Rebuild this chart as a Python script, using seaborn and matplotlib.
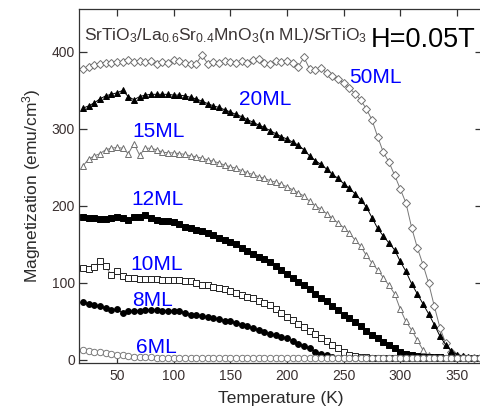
import matplotlib
matplotlib.use("Agg")
import matplotlib.pyplot as plt
import seaborn as sns
import pandas as pd

# Temperature grid (K)
temps = [20, 25, 30, 35, 40, 45, 50, 55, 60, 65, 70, 75, 80, 85, 90, 95,
         100, 105, 110, 115, 120, 125, 130, 135, 140, 145, 150, 155, 160, 165,
         170, 175, 180, 185, 190, 195, 200, 205, 210, 215, 220, 225, 230, 235,
         240, 245, 250, 255, 260, 265, 270, 275, 280, 285, 290, 295, 300, 305,
         310, 315, 320, 325, 330, 335, 340, 345, 350, 355, 360, 365, 370]

# Magnetization (emu/cm^3) for each thickness
m_50 = [378, 381, 383, 385, 386, 386, 387, 387, 389, 387, 388, 387, 388, 385,
        387, 386, 389, 388, 386, 384, 385, 396, 385, 387, 386, 388, 387, 386,
        388, 386, 389, 391, 386, 384, 388, 387, 388, 386, 381, 393, 378, 377,
        379, 373, 369, 365, 360, 353, 346, 338, 326, 312, 290, 270, 257, 240,
        222, 204, 172, 146, 124, 100, 70, 42, 22, 10, 5, 4, 3, 2, 2]
m_20 = [327, 330, 334, 339, 343, 345, 347, 350, 342, 338, 342, 344, 345, 345,
        345, 345, 344, 344, 343, 341, 339, 336, 333, 330, 328, 325, 322, 319,
        316, 312, 309, 305, 302, 298, 294, 290, 287, 283, 279, 273, 265, 259,
        254, 248, 241, 236, 229, 223, 216, 208, 199, 185, 171, 161, 152, 143,
        128, 115, 99, 86, 73, 60, 46, 31, 20, 12, 7, 5, 4, 3, 3]
m_15 = [252, 261, 265, 268, 273, 275, 276, 275, 268, 281, 266, 275, 275, 273,
        270, 269, 269, 268, 267, 265, 264, 262, 260, 258, 256, 253, 251, 249,
        246, 243, 241, 238, 236, 233, 231, 228, 225, 221, 217, 213, 206, 200,
        196, 190, 184, 178, 172, 165, 156, 148, 136, 126, 117, 107, 97, 86,
        66, 50, 39, 26, 13, 6, 4, 3, 3, 3, 3, 3, 3, 3, 3]
m_12 = [186, 185, 184, 183, 183, 184, 186, 184, 182, 186, 186, 188, 185, 182,
        181, 180, 179, 177, 173, 171, 169, 167, 165, 162, 159, 156, 153, 150,
        146, 142, 138, 134, 131, 127, 122, 117, 112, 107, 101, 97, 92, 86, 81,
        76, 70, 65, 59, 54, 49, 44, 38, 33, 28, 24, 20, 15, 11, 8, 6, 5, 4, 4,
        4, 4, 3, 3, 3, 3, 3, 3, 3]
m_10 = [119, 118, 121, 128, 122, 110, 115, 109, 106, 106, 105, 105, 105, 105,
        104, 104, 104, 104, 103, 102, 100, 98, 97, 95, 94, 92, 90, 87, 85, 82,
        80, 77, 74, 71, 66, 61, 56, 52, 47, 43, 38, 34, 29, 25, 20, 16, 11, 7,
        5, 4, 4, 3, 3, 3, 3, 3, 3, 3, 3, 3, 3, 3, 3, 3, 3, 3, 3, 3, 3, 3, 3]
m_8 = [75, 73, 71, 70, 67, 65, 66, 61, 63, 64, 64, 65, 65, 65, 64, 64, 64, 63,
       61, 59, 58, 57, 56, 54, 53, 51, 50, 48, 46, 44, 41, 39, 36, 34, 32, 30,
       28, 25, 21, 18, 15, 11, 8, 6, 4, 3, 3, 3, 3, 3, 3, 3, 3, 3, 3, 3, 3, 3,
       3, 3, 3, 3, 3, 3, 3, 3, 3, 3, 3, 3, 3]
m_6 = [13, 12, 11, 10, 9, 8, 7, 6, 5, 4.5, 4, 4, 3.5, 3, 3, 3, 3, 3, 3, 3, 3,
       3, 3, 3, 3, 3, 3, 3, 3, 3, 3, 3, 3, 3, 3, 3, 3, 3, 3, 3, 3, 3, 3, 3, 3,
       3, 3, 3, 3, 3, 3, 3, 3, 3, 3, 3, 3, 3, 3, 3, 3, 3, 3, 3, 3, 3, 3, 3, 3,
       3, 3]

labels = ["50ML", "20ML", "15ML", "12ML", "10ML", "8ML", "6ML"]
label_x = [255, 158, 64, 63, 62, 63, 67]
label_y = [360, 331, 290, 201, 117, 70, 9]

sns.set_style("ticks")
plt.rcParams["font.family"] = ["Liberation Sans", "DejaVu Sans"]
plt.rcParams["mathtext.default"] = "regular"
plt.rcParams["xtick.direction"] = "in"
plt.rcParams["ytick.direction"] = "in"

fig = plt.figure(figsize=(4.81, 4.16), dpi=100)
ax = fig.add_axes([79 / 481, 53 / 416, 404 / 481, 354 / 416])

# (values, marker, edge colour, face colour, marker size)
series = [
    (m_50, "D", "#6f6f6f", "white", 3.6),
    (m_20, "^", "black", "black", 5),
    (m_15, "^", "#6f6f6f", "white", 5),
    (m_12, "s", "black", "black", 4.5),
    (m_10, "s", "#222222", "white", 4.5),
    (m_8, "o", "black", "black", 4.2),
    (m_6, "o", "#7a7a7a", "white", 4.6),
]

for vals, mk, ec, fc, ms in series:
    df = pd.DataFrame({"T": temps, "M": vals})
    line_col = "black" if fc == "black" else "#777777"
    sns.lineplot(data=df, x="T", y="M", ax=ax, color=line_col, lw=0.7,
                 marker=mk, markersize=ms, markeredgecolor=ec,
                 markerfacecolor=fc, markeredgewidth=0.7, clip_on=False)

for lab, x, y in zip(labels, label_x, label_y):
    ax.text(x, y, lab, color="#0000ff", fontsize=15, ha="left", va="baseline")

ax.text(21, 415, r"SrTiO$_3$/La$_{0.6}$Sr$_{0.4}$MnO$_3$(n ML)/SrTiO$_3$",
        color="#3b3535", fontsize=12.5, ha="left", va="baseline")
ax.text(274, 406, "H=0.05T", color="black", fontsize=19.5, ha="left",
        va="baseline", clip_on=False)

ax.set_xlim(16.5, 373)
ax.set_ylim(-3.9, 455.8)
ax.set_xticks([50, 100, 150, 200, 250, 300, 350])
ax.set_yticks([0, 100, 200, 300, 400])
ax.tick_params(axis="x", top=True, length=5, width=0.9, labelsize=10,
               colors="#333333", labelcolor="#3a3030", pad=4)
ax.tick_params(axis="y", right=True, length=6, width=0.9, labelsize=10,
               colors="#333333", labelcolor="#3a3030", pad=3)
for s in ax.spines.values():
    s.set_color("#333333")
    s.set_linewidth(0.9)

ax.set_xlabel("Temperature (K)", fontsize=12.5, color="#2a2a2a", labelpad=6)
ax.set_ylabel(r"Magnetization (emu/cm$^3$)", fontsize=12.5, color="#2a2a2a",
              labelpad=6)

fig.savefig("out.png", dpi=100)
